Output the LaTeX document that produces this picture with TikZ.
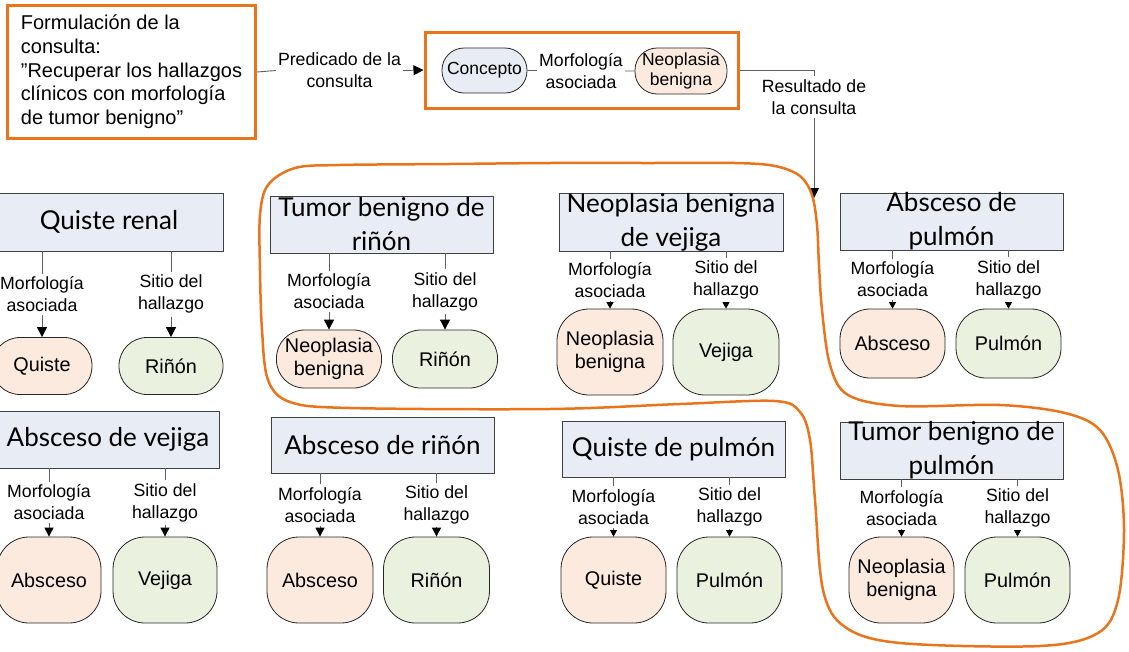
\documentclass[tikz,border=0pt]{standalone}
\usepackage{fontspec}
\setmainfont{Liberation Sans}
\newfontfamily\titlefont{Lato}
\usetikzlibrary{arrows.meta}
\definecolor{ora}{RGB}{234,116,28}
\definecolor{bgray}{RGB}{232,236,244}
\definecolor{peach}{RGB}{252,234,222}
\definecolor{lgreen}{RGB}{234,241,222}
\definecolor{lgray}{RGB}{95,95,95}
\begin{document}
\begin{tikzpicture}[x=1pt,y=-1pt,
  tbox/.style={draw=black!75, fill=bgray, line width=0.9pt, inner sep=0pt},
  ttext/.style={font=\titlefont\fontsize{26}{34}\selectfont, align=center, inner sep=0pt},
  pnode/.style={draw=black!85, fill=peach, line width=0.8pt, font=\fontsize{19.8}{23.5}\selectfont, align=center, inner sep=0pt},
  gnode/.style={pnode, fill=lgreen},
  snode/.style={draw=black!85, line width=0.8pt, font=\fontsize{17.5}{20}\selectfont, align=center, inner sep=0pt},
  conn/.style={draw=lgray, line width=0.9pt},
  lbl/.style={fill=white, inner xsep=2pt, inner ysep=3pt, font=\fontsize{17.7}{22}\selectfont, align=center},
  tipL/.style={-{Triangle[length=10pt,width=10pt,color=black]}},
  tipM/.style={-{Triangle[length=9pt,width=9pt,color=black]}},
  tipS/.style={-{Triangle[length=6.5pt,width=7pt,color=black]}},
  orabox/.style={draw=ora, line width=3pt},
  blob/.style={draw=ora, line width=2.5pt}
]
\useasboundingbox (0,0) rectangle (1129,651);

% ---------- top part ----------
\node[orabox, anchor=north west, minimum width=248pt, minimum height=133pt,
      inner sep=0pt, align=left,
      font=\fontsize{20}{23.7}\selectfont] (fq) at (6,4)
  {Formulación de la\\consulta:\\”Recuperar los hallazgos\\clínicos con morfología\\de tumor benigno”};

\node[orabox, minimum width=313pt, minimum height=76pt] (qb) at (581.5,70) {};
\node[snode, fill=bgray, minimum width=85pt, minimum height=45pt, rounded corners=22pt] (cc) at (484.5,70.5) {Concepto};
\node[snode, fill=peach, minimum width=92pt, minimum height=46pt, rounded corners=22pt] (nb) at (681,71) {Neoplasia\\benigna};

\node[lbl] (pred) at (339.5,70.5) {Predicado de la\\consulta};
\draw[conn] (fq.east) -- (pred.west);
\draw[conn, tipL] (pred.east) -- (qb.west);
\draw[conn] (cc.east) -- node[lbl] (ma) {Morfología\\asociada} (nb.west);

\node[lbl] (res) at (814,97) {Resultado de\\la consulta};
\coordinate (tip) at (814,198);
\draw[conn] (qb.east) -| (res.north);
\draw[conn, tipL] (res.south) -- (tip);

% ---------- block A: Quiste renal ----------
\node[tbox, minimum width=228pt, minimum height=58pt] (a) at (109,222) {};
\node[ttext] (a-t) at (a) {Quiste renal};
\node[pnode, minimum width=100pt, minimum height=57pt, rounded corners=28pt] (a-m) at (42,366) {Quiste};
\node[gnode, minimum width=104pt, minimum height=57pt, rounded corners=28pt] (a-s) at (171,366) {Riñón};
\draw[conn, tipL] (a.south -| a-m.north) -- node[lbl] {Morfología\\asociada} (a-m.north);
\draw[conn, tipL] (a.south -| a-s.north) -- node[lbl] {Sitio del\\hallazgo} (a-s.north);

% ---------- block B: Tumor benigno de riñón ----------
\node[tbox, minimum width=223pt, minimum height=57pt] (b) at (381.5,224.5) {};
\node[ttext] (b-t) at (b) {Tumor benigno de\\riñón};
\node[pnode, minimum width=105pt, minimum height=58pt, rounded corners=28pt] (b-m) at (329,359) {Neoplasia\\benigna};
\node[gnode, minimum width=105pt, minimum height=58pt, rounded corners=28pt] (b-s) at (445,359) {Riñón};
\draw[conn, tipL] (b.south -| b-m.north) -- node[lbl] {Morfología\\asociada} (b-m.north);
\draw[conn, tipL] (b.south -| b-s.north) -- node[lbl] {Sitio del\\hallazgo} (b-s.north);

% ---------- block C: Neoplasia benigna de vejiga ----------
\node[tbox, minimum width=224pt, minimum height=58pt] (c) at (671,222) {};
\node[ttext] (c-t) at (c) {Neoplasia benigna\\de vejiga};
\node[pnode, minimum width=106pt, minimum height=86pt, rounded corners=32pt] (c-m) at (610,352) {Neoplasia\\benigna};
\node[gnode, minimum width=106pt, minimum height=86pt, rounded corners=32pt] (c-s) at (726,352) {Vejiga};
\draw[conn, tipS] (c.south -| c-m.north) -- node[lbl] {Morfología\\asociada} (c-m.north);
\draw[conn, tipS] (c.south -| c-s.north) -- node[lbl] {Sitio del\\hallazgo} (c-s.north);

% ---------- block D: Absceso de pulmón ----------
\node[tbox, minimum width=223pt, minimum height=57pt] (d) at (951.5,221.5) {};
\node[ttext] (d-t) at (d) {Absceso de\\pulmón};
\node[pnode, minimum width=105pt, minimum height=69pt, rounded corners=30pt] (d-m) at (892.5,343.5) {Absceso};
\node[gnode, minimum width=105pt, minimum height=69pt, rounded corners=30pt] (d-s) at (1008.5,343.5) {Pulmón};
\draw[conn, tipS] (d.south -| d-m.north) -- node[lbl] {Morfología\\asociada} (d-m.north);
\draw[conn, tipS] (d.south -| d-s.north) -- node[lbl] {Sitio del\\hallazgo} (d-s.north);

% ---------- block E: Absceso de vejiga ----------
\node[tbox, minimum width=223pt, minimum height=57pt] (e) at (108,439.5) {};
\node[ttext] (e-t) at (e) {Absceso de vejiga};
\node[pnode, minimum width=104pt, minimum height=86pt, rounded corners=32pt] (e-m) at (49,580) {Absceso};
\node[gnode, minimum width=104pt, minimum height=86pt, rounded corners=32pt] (e-s) at (165,580) {Vejiga};
\draw[conn, tipM] (e.south -| e-m.north) -- node[lbl] {Morfología\\asociada} (e-m.north);
\draw[conn, tipM] (e.south -| e-s.north) -- node[lbl] {Sitio del\\hallazgo} (e-s.north);

% ---------- block F: Absceso de riñón ----------
\node[tbox, minimum width=223pt, minimum height=56pt] (f) at (382.5,445) {};
\node[ttext] (f-t) at (f) {Absceso de riñón};
\node[pnode, minimum width=106pt, minimum height=86pt, rounded corners=32pt] (f-m) at (320,580) {Absceso};
\node[gnode, minimum width=106pt, minimum height=86pt, rounded corners=32pt] (f-s) at (436.5,580) {Riñón};
\draw[conn, tipM] (f.south -| f-m.north) -- node[lbl] {Morfología\\asociada} (f-m.north);
\draw[conn, tipM] (f.south -| f-s.north) -- node[lbl] {Sitio del\\hallazgo} (f-s.north);

% ---------- block G: Quiste de pulmón ----------
\node[tbox, minimum width=223pt, minimum height=56pt] (g) at (673.5,449) {};
\node[ttext] (g-t) at (g) {Quiste de pulmón};
\node[pnode, minimum width=105pt, minimum height=86pt, rounded corners=32pt] (g-m) at (613.5,580) {Quiste};
\node[gnode, minimum width=105pt, minimum height=86pt, rounded corners=32pt] (g-s) at (729.5,580) {Pulmón};
\draw[conn, tipS] (g.south -| g-m.north) -- node[lbl] {Morfología\\asociada} (g-m.north);
\draw[conn, tipS] (g.south -| g-s.north) -- node[lbl] {Sitio del\\hallazgo} (g-s.north);

% ---------- block H: Tumor benigno de pulmón ----------
\node[tbox, minimum width=223pt, minimum height=57pt] (h) at (951.5,450.5) {};
\node[ttext] (h-t) at (h) {Tumor benigno de\\pulmón};
\node[pnode, minimum width=105pt, minimum height=86pt, rounded corners=32pt] (h-m) at (901.5,580) {Neoplasia\\benigna};
\node[gnode, minimum width=105pt, minimum height=86pt, rounded corners=32pt] (h-s) at (1017.5,580) {Pulmón};
\draw[conn, tipS] (h.south -| h-m.north) -- node[lbl] {Morfología\\asociada} (h-m.north);
\draw[conn, tipS] (h.south -| h-s.north) -- node[lbl] {Sitio del\\hallazgo} (h-s.north);

% ---------- orange result outline ----------
\draw[blob] plot[smooth cycle, tension=0.55] coordinates {
  (260,215) (268,185) (295,168) (340,165) (450,164) (550,163) (650,163)
  (735,163) (775,166) (800,176) (812,195) (817,225) (819,265) (822,310)
  (830,365) (848,395) (900,406) (1000,405) (1065,413) (1100,430) (1118,470)
  (1124,530) (1118,600) (1098,633) (1040,646) (900,643) (845,627) (823,590)
  (815,500) (810,440) (800,412) (775,401) (680,404) (550,409) (350,408)
  (290,402) (268,380) (262,330) (260,270)};
\end{tikzpicture}
\end{document}
